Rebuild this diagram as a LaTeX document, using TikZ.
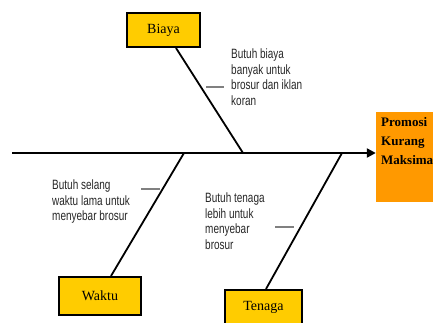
\documentclass[tikz,border=0pt]{standalone}
\usepackage{fontspec}
\setmainfont{Liberation Serif}
\newfontfamily\narrowsans[FakeStretch=0.74]{Liberation Sans}
\usetikzlibrary{arrows.meta}
\definecolor{causegold}{HTML}{FFCC00}
\definecolor{effectorange}{HTML}{FF9900}
\definecolor{tickgray}{HTML}{808080}
\begin{document}
\begin{tikzpicture}[x=1pt,y=-1pt,
  causebox/.style={draw=black,line width=2pt,fill=causegold,inner sep=0pt,font=\fontsize{14}{14}\selectfont},
  effectbox/.style={fill=effectorange,inner sep=0pt,minimum width=58pt,minimum height=90pt},
  effecttext/.style={inner sep=0pt,anchor=north west,align=left,font=\bfseries\fontsize{13}{19}\selectfont},
  note/.style={inner sep=0pt,anchor=north west,align=left,text=black!85,
    font=\narrowsans\fontsize{13.5}{15.5}\selectfont},
  bone/.style={draw=black,line width=1.8pt},
  spine/.style={draw=black,line width=2.8pt},
  tick/.style={draw=tickgray,line width=1.2pt}]
\useasboundingbox (0,0) rectangle (433,323);
% effect box
\node[effectbox] (effect) at (405,157) {};
\node[effecttext] (effectlabel) at (381,117) {Promosi\\Kurang\\Maksima};
% spine
\coordinate (tail) at (12,153);
\draw[spine,-{Triangle[length=9pt,width=9pt]}] (tail) -- (effect.west |- tail);
% cause boxes
\node[causebox,minimum width=73pt,minimum height=34pt] (biaya) at (163.5,30) {Biaya};
\node[causebox,minimum width=82pt,minimum height=38pt] (waktu) at (100,296) {Waktu};
\node[causebox,minimum width=77pt,minimum height=34pt] (tenaga) at (263.5,307) {Tenaga};
% junctions on spine
\coordinate (jb) at (243,153);
\coordinate (jw) at (184,153);
\coordinate (jt) at (342,153);
\draw[bone] (biaya.south -| 176,0) -- (jb);
\draw[bone] (waktu.north -| 111,0) -- (jw);
\draw[bone] (tenaga.north -| 266,0) -- (jt);
% small ticks
\coordinate (tb1) at (206,87); \coordinate (tb2) at (224,87);
\coordinate (tw1) at (141,189); \coordinate (tw2) at (160,189);
\coordinate (tt1) at (275,227); \coordinate (tt2) at (294,227);
\draw[tick] (tb1) -- (tb2);
\draw[tick] (tw1) -- (tw2);
\draw[tick] (tt1) -- (tt2);
% notes
\node[note] (nb) at (231,49) {Butuh biaya\\banyak untuk\\brosur dan iklan\\koran};
\node[note] (nw) at (52,180) {Butuh selang\\waktu lama untuk\\menyebar brosur};
\node[note] (nt) at (205,193) {Butuh tenaga\\lebih untuk\\menyebar\\brosur};
\end{tikzpicture}
\end{document}
